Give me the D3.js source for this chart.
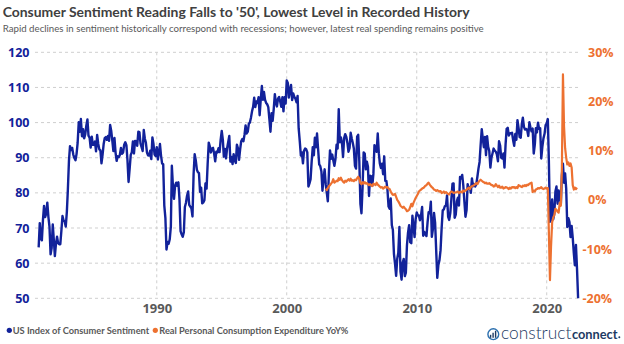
<!DOCTYPE html>
<html><head><meta charset="utf-8">
<script src="https://cdn.jsdelivr.net/npm/d3@7"></script>
<style>body{margin:0;background:#fff;} svg{display:block;font-family:"Open Sans",sans-serif;}</style>
</head><body><svg id="c" width="624" height="344"></svg>
<script>
// ---- DATA ----
const sentimentStart = [1980, 11]; // first month: Dec 1980
const sentiment = [
64.5,
71.4,66.9,66.5,72.4,76.3,73.1,74.1,77.2,73.1,70.3,62.5,64.3,
71.0,66.5,62.0,65.5,67.5,65.7,65.4,65.4,69.3,73.4,72.1,71.9,
70.4,74.6,80.8,89.1,93.3,92.2,92.8,90.9,89.9,89.3,91.1,94.2,
100.1,97.4,101.0,96.1,98.1,95.5,96.6,99.1,100.9,96.3,95.7,92.9,
96.0,93.7,93.7,94.6,91.8,96.5,94.0,92.4,92.1,88.4,90.9,93.9,
95.6,95.9,95.1,96.2,94.8,99.3,97.7,94.9,91.9,95.6,91.4,89.1,
90.4,90.2,90.8,92.8,91.1,91.5,93.7,94.4,93.6,89.3,83.1,86.8,
90.8,91.6,94.6,91.2,94.8,94.7,93.4,97.4,97.3,94.1,93.0,91.9,
97.9,95.4,94.3,91.5,90.7,90.6,92.0,89.6,95.8,93.9,90.9,90.5,
93.0,89.5,91.3,93.9,90.6,88.3,88.2,76.4,72.8,63.9,66.0,65.5,
66.8,70.4,87.7,81.8,78.3,82.1,82.9,82.0,83.0,78.3,69.1,68.2,
67.5,68.8,76.0,77.2,79.2,80.4,76.6,76.1,75.6,73.3,85.3,91.0,
89.3,86.6,85.9,85.6,80.3,81.5,77.0,77.3,77.9,82.7,81.2,88.2,
94.3,93.2,91.5,92.6,92.8,91.2,89.0,91.7,91.5,92.7,91.6,95.1,
97.6,95.1,90.3,92.5,89.8,92.7,94.4,96.2,88.9,90.2,88.2,91.0,
89.3,88.5,93.7,92.7,89.4,92.4,94.7,95.3,94.7,96.5,99.2,96.9,
97.4,99.7,100.0,101.4,103.2,104.5,107.1,104.4,106.0,105.6,107.2,102.1,
106.6,110.4,106.5,108.7,106.5,105.6,105.2,104.4,100.9,97.4,102.7,100.5,
103.9,108.1,105.7,104.6,106.8,107.3,106.0,104.5,107.2,103.2,107.2,105.4,
112.0,111.3,107.1,109.2,110.7,106.4,108.3,107.3,106.8,105.8,107.6,98.4,
94.7,90.6,91.5,88.4,92.0,92.6,92.4,91.5,81.8,82.7,83.9,88.8,
93.0,90.7,95.7,93.0,96.9,92.4,88.1,87.6,86.1,80.6,84.2,86.7,
82.4,79.9,77.6,86.0,92.1,89.7,90.9,89.3,87.7,89.6,93.7,92.6,
103.8,94.4,95.8,94.2,90.2,95.6,96.7,95.9,94.2,91.7,92.8,97.1,
95.5,94.1,92.6,87.7,86.9,96.0,96.5,89.1,76.9,74.2,81.6,91.5,
91.2,86.7,88.9,87.4,79.1,84.9,84.7,82.0,85.4,93.6,92.1,91.7,
96.9,91.3,88.4,87.1,88.3,85.3,90.4,83.4,83.4,80.9,76.1,75.5,
78.4,70.8,69.5,62.6,59.8,56.4,61.2,63.0,70.3,57.6,55.3,60.1,
61.2,56.3,57.3,65.1,68.7,70.8,66.0,65.7,73.5,70.6,67.4,72.5,
74.4,73.6,73.6,72.2,73.6,76.0,67.8,68.9,68.2,67.7,71.6,74.5,
74.2,77.5,67.5,69.8,74.3,71.5,63.7,55.8,59.5,60.8,63.7,69.9,
75.0,75.3,76.2,76.4,79.3,73.2,72.3,74.3,78.3,82.6,82.7,72.9,
73.8,77.6,78.6,76.4,84.5,84.1,85.1,82.1,77.5,73.2,75.1,82.5,
81.2,81.6,80.0,84.1,81.9,82.5,81.8,82.5,84.6,86.9,88.8,93.6,
98.1,95.4,93.0,95.9,90.7,96.1,93.1,91.9,87.2,90.0,91.3,92.6,
92.0,91.7,91.0,89.0,94.7,93.5,90.0,89.8,91.2,87.2,93.8,98.2,
98.5,96.3,96.9,97.0,97.1,95.0,93.4,96.8,95.1,100.7,98.5,95.9,
95.7,99.7,101.4,98.8,98.0,98.2,97.9,96.2,100.1,98.6,97.5,98.3,
91.2,93.8,98.4,97.2,100.0,98.2,98.4,89.8,93.2,95.5,96.8,99.3,
99.8,101.0,89.1,71.8,72.3,78.1,72.5,74.1,80.4,81.8,76.9,80.7,
79.0,76.8,84.9,88.3,82.9,85.5,81.2,70.3,72.8,71.7,67.4,70.6,
67.2,62.8,59.4,65.2,58.4,50.0
];

const pceStart = [2003, 0]; // first month: Jan 2003
const pceYoY = [
2.3,2.0,2.4,2.8,3.0,3.3,3.6,4.2,3.5,3.7,3.9,3.8,
4.4,4.1,4.5,4.0,3.7,3.5,3.9,3.7,4.0,4.2,3.9,4.3,
3.9,4.0,3.8,4.1,4.0,4.4,4.7,4.3,3.4,3.2,3.6,3.3,
3.6,3.3,3.4,3.2,3.0,3.2,3.0,2.8,3.3,3.2,3.0,3.5,
3.1,2.9,2.7,2.5,2.6,2.3,2.5,2.7,2.5,2.6,2.3,2.2,
1.7,1.3,1.0,1.1,1.2,0.6,0.0,-0.3,-0.7,-1.2,-1.4,-1.6,
-1.4,-1.7,-1.9,-2.3,-2.2,-2.0,-1.5,-0.8,-1.3,-0.6,-0.1,0.4,
0.8,1.2,1.7,1.9,2.1,2.3,2.4,2.6,2.9,3.0,3.3,3.5,
3.1,2.8,2.6,2.4,2.1,2.0,1.8,2.0,1.8,1.7,1.8,1.4,
1.5,1.7,1.4,1.6,1.4,1.2,1.1,1.5,1.7,1.6,1.4,1.5,
1.5,1.6,1.7,1.4,1.6,1.7,1.5,1.9,1.7,1.9,2.1,2.3,
2.5,2.2,2.6,2.8,2.9,3.0,3.2,3.4,3.2,3.6,3.9,4.1,
3.9,3.7,3.6,3.4,3.5,3.3,3.3,3.4,3.2,3.0,3.0,2.7,
2.8,3.2,2.9,2.6,2.9,2.5,2.5,2.7,2.3,2.4,2.6,2.5,
2.4,2.2,2.5,2.3,2.6,2.5,2.6,2.4,2.6,2.4,3.0,2.9,
2.7,2.6,2.9,2.8,3.0,2.8,3.1,3.0,3.3,3.4,3.5,1.6,
1.9,1.7,2.1,2.2,2.4,2.3,2.4,2.6,2.3,2.2,2.3,2.5,
2.3,2.4,-6.5,-16.3,-9.5,-4.6,-3.6,-3.1,-1.8,-2.0,-2.4,-2.6,
-0.6,-1.2,6.0,25.5,15.0,10.5,8.6,7.2,7.6,6.9,7.4,6.6,
3.0,2.1,2.5,2.2,2.5
];

const leftTicks = [50, 60, 70, 80, 90, 100, 110, 120];
const rightTicks = [-20, -10, 0, 10, 20, 30];
const decadeTicks = [1990, 2000, 2010, 2020];
const titleText = "Consumer Sentiment Reading Falls to '50', Lowest Level in Recorded History";
const subtitleText = "Rapid declines in sentiment historically correspond with recessions; however, latest real spending remains positive";
const legendLabels = ["US Index of Consumer Sentiment", "Real Personal Consumption Expenditure YoY%"];

// ---- CHART ----
const BLUE = "#12229a", ORANGE = "#ed7131", GRAY = "#595959";
const svg = d3.select("#c");
const plot = {left: 35, right: 580, top: 52.3, bottom: 298.3};

const x = d3.scaleTime()
  .domain([new Date(1980, 7, 20), new Date(2022, 6, 24)])
  .range([plot.left, plot.right]);
const yL = d3.scaleLinear().domain([50, 120]).range([plot.bottom, plot.top]);
const yR = d3.scaleLinear().domain([-20, 30]).range([plot.bottom, plot.top]);

const sentData = sentiment.map((v, i) => ({d: new Date(sentimentStart[0], sentimentStart[1] + i, 1), v}));
const pceData = pceYoY.map((v, i) => ({d: new Date(pceStart[0], pceStart[1] + i, 1), v}));

// scale the font size so a text spans a target width
function fit(sel, target) {
  const fs = parseFloat(sel.attr("font-size"));
  const w = sel.node().getComputedTextLength();
  sel.attr("font-size", (fs * target / w).toFixed(2));
  return sel;
}
const LATO = "Lato, 'Open Sans', sans-serif";

// title
fit(svg.append("text").attr("x", 2.7).attr("y", 17).attr("font-size", 19).attr("font-family", LATO)
  .attr("font-weight", 700).attr("fill", "#404040").text(titleText), 467);
fit(svg.append("text").attr("x", 2.7).attr("y", 31.5).attr("font-size", 12).attr("font-family", LATO)
  .attr("fill", GRAY).text(subtitleText), 482);

// gridlines
const grid = svg.append("g");
grid.selectAll("line.h").data(leftTicks).join("line")
  .attr("x1", plot.left).attr("x2", plot.right)
  .attr("y1", d => yL(d)).attr("y2", d => yL(d))
  .attr("stroke", "#cfcfcf").attr("stroke-width", 1).attr("stroke-dasharray", "3,3");
grid.selectAll("line.v").data(decadeTicks).join("line")
  .attr("x1", d => x(new Date(d, 0, 1))).attr("x2", d => x(new Date(d, 0, 1)))
  .attr("y1", plot.top).attr("y2", plot.bottom)
  .attr("stroke", "#cfcfcf").attr("stroke-width", 1).attr("stroke-dasharray", "3,3");

// left axis
const axL = svg.append("g").attr("transform", `translate(29.5,0)`)
  .call(d3.axisLeft(yL).tickValues(leftTicks).tickSize(0).tickPadding(0));
axL.select(".domain").remove();
axL.selectAll("text").attr("fill", BLUE).attr("font-size", 12.5).attr("font-weight", 700)
  .attr("font-family", "'Open Sans',sans-serif");

// right axis
const axR = svg.append("g").attr("transform", `translate(588,0)`)
  .call(d3.axisRight(yR).tickValues(rightTicks).tickSize(0).tickPadding(0).tickFormat(d => d + "%"));
axR.select(".domain").remove();
axR.selectAll("text").attr("fill", ORANGE).attr("font-size", 12.5).attr("font-weight", 700)
  .attr("font-family", "'Open Sans',sans-serif")
  .attr("x", d => d < 0 ? -5.5 : 0);

// bottom axis
const axB = svg.append("g").attr("transform", `translate(0,${plot.bottom})`)
  .call(d3.axisBottom(x).tickValues(decadeTicks.map(d => new Date(d, 0, 1)))
    .tickSize(0).tickPadding(5).tickFormat(d3.timeFormat("%Y")));
axB.select(".domain").remove();
axB.selectAll("text").attr("fill", GRAY).attr("font-size", 13).attr("font-weight", 700)
  .attr("font-family", "'Open Sans',sans-serif");

// lines
svg.append("path").datum(sentData)
  .attr("d", d3.line().x(d => x(d.d)).y(d => yL(d.v)))
  .attr("fill", "none").attr("stroke", BLUE).attr("stroke-width", 2.4).attr("stroke-linejoin", "round");
svg.append("path").datum(pceData)
  .attr("d", d3.line().x(d => x(d.d)).y(d => yR(d.v)))
  .attr("fill", "none").attr("stroke", ORANGE).attr("stroke-width", 2.2).attr("stroke-linejoin", "round");

// legend
const leg = svg.append("g");
leg.append("circle").attr("cx", 9.3).attr("cy", 330.3).attr("r", 2.6).attr("fill", BLUE);
fit(leg.append("text").attr("x", 12.7).attr("y", 334.4).attr("font-size", 11.6).attr("font-weight", 700)
  .attr("font-family", LATO).attr("fill", GRAY).text(legendLabels[0]), 136.5);
leg.append("circle").attr("cx", 155.3).attr("cy", 330.3).attr("r", 2.6).attr("fill", ORANGE);
fit(leg.append("text").attr("x", 159.3).attr("y", 334.4).attr("font-size", 11.6).attr("font-weight", 700)
  .attr("font-family", LATO).attr("fill", GRAY).text(legendLabels[1]), 189);

// logo
const logo = svg.append("g");
logo.append("circle").attr("cx", 493.3).attr("cy", 334.2).attr("r", 5.4)
  .attr("fill", "none").attr("stroke", "#2b6fae").attr("stroke-width", 1.4);
[[490.6, 3], [493.1, 5], [495.6, 7]].forEach(([bx, h]) => {
  logo.append("line").attr("x1", bx).attr("x2", bx).attr("y1", 337.8).attr("y2", 337.8 - h)
    .attr("stroke", "#1d3a63").attr("stroke-width", 1.4);
});
fit(logo.append("text").attr("x", 501).attr("y", 338.5).attr("font-size", 15).attr("font-weight", 300)
  .attr("font-family", LATO).attr("fill", "#1d3a63").text("construct"), 70.5);
fit(logo.append("text").attr("x", 572).attr("y", 338.5).attr("font-size", 15).attr("font-weight", 700)
  .attr("font-family", LATO).attr("fill", "#1d3a63").text("connect"), 45.5);
logo.append("circle").attr("cx", 619.3).attr("cy", 337.3).attr("r", 1).attr("fill", "#1d3a63");
</script>
</body></html>
